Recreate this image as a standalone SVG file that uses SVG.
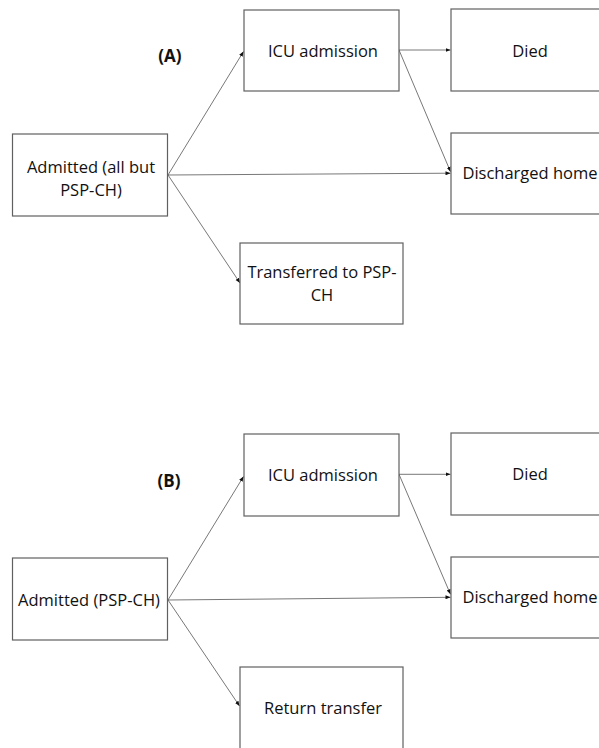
<svg xmlns="http://www.w3.org/2000/svg" width="599" height="748" viewBox="0 0 599 748">
<defs>
<marker id="ah" markerUnits="userSpaceOnUse" markerWidth="6" markerHeight="6" refX="5" refY="2.5" orient="auto">
<path d="M0,0.5 L5,2.5 L0,4.5 Z" fill="#111"/>
</marker>
</defs>
<style>
.box{fill:#fff;stroke:#606060;stroke-width:1.2}
.t{font-family:"Open Sans","Liberation Sans",Arial,sans-serif;font-size:16.5px;fill:#111;text-anchor:middle}
.lbl{font-family:"Open Sans","Liberation Sans",Arial,sans-serif;font-size:17px;font-weight:bold;fill:#111;text-anchor:middle}
.c{fill:none;stroke:#555;stroke-width:0.8;marker-end:url(#ah)}
</style>
<rect width="599" height="748" fill="#fff"/>
<text class="lbl" x="170" y="62">(A)</text>
<text class="lbl" x="169" y="487">(B)</text>
<g id="connectors">
<line class="c" x1="168" y1="175" x2="243.5" y2="51.5"/>
<line class="c" x1="168" y1="175" x2="450.5" y2="173.2"/>
<line class="c" x1="168" y1="175" x2="240" y2="283"/>
<line class="c" x1="399" y1="50" x2="450.5" y2="50"/>
<line class="c" x1="399" y1="50" x2="450.5" y2="171.7"/>
<line class="c" x1="168" y1="600" x2="243.5" y2="476.5"/>
<line class="c" x1="168" y1="600" x2="450.5" y2="597.3"/>
<line class="c" x1="168" y1="600" x2="239.5" y2="706"/>
<line class="c" x1="399" y1="474.3" x2="450.5" y2="474.3"/>
<line class="c" x1="399" y1="474.3" x2="450.5" y2="594.3"/>
</g>
<g id="a-admitted">
<rect class="box" x="12.5" y="134" width="155" height="82"/>
<text class="t" x="91" y="173">Admitted (all but</text>
<text class="t" x="91" y="196">PSP-CH)</text>
</g>
<g id="a-icu">
<rect class="box" x="244" y="10" width="155" height="81"/>
<text class="t" x="323" y="57">ICU admission</text>
</g>
<g id="a-died">
<rect class="box" x="451" y="9" width="160" height="82"/>
<text class="t" x="530" y="57">Died</text>
</g>
<g id="a-discharged">
<rect class="box" x="451" y="133" width="160" height="81"/>
<text class="t" x="530" y="179">Discharged home</text>
</g>
<g id="a-transferred">
<rect class="box" x="240" y="243" width="163" height="81"/>
<text class="t" x="322" y="278">Transferred to PSP-</text>
<text class="t" x="322" y="301">CH</text>
</g>
<g id="b-admitted">
<rect class="box" x="12.5" y="558" width="155" height="82"/>
<text class="t" x="89" y="606">Admitted (PSP-CH)</text>
</g>
<g id="b-icu">
<rect class="box" x="244" y="434" width="155" height="82"/>
<text class="t" x="323" y="481">ICU admission</text>
</g>
<g id="b-died">
<rect class="box" x="451" y="433" width="160" height="82"/>
<text class="t" x="530" y="480">Died</text>
</g>
<g id="b-discharged">
<rect class="box" x="451" y="557" width="160" height="81"/>
<text class="t" x="530" y="603">Discharged home</text>
</g>
<g id="b-return">
<rect class="box" x="240" y="667" width="163" height="82"/>
<text class="t" x="323" y="714">Return transfer</text>
</g>
</svg>
